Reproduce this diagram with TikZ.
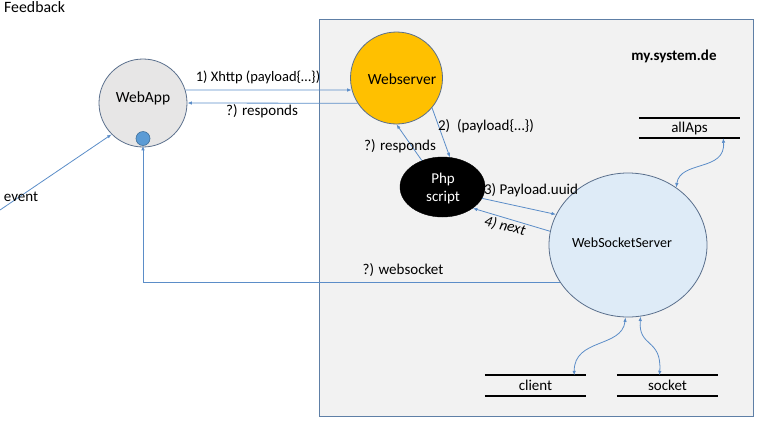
\documentclass[tikz,border=0pt]{standalone}
\usepackage{fontspec}
\setmainfont{Carlito}
\usetikzlibrary{arrows.meta,shapes.geometric}
\definecolor{boxfill}{HTML}{F2F2F2}
\definecolor{boxline}{HTML}{5E7FA6}
\definecolor{conn}{HTML}{5B8DC8}
\definecolor{shapeline}{HTML}{5A6F8C}
\definecolor{appfill}{HTML}{E7E6E6}
\definecolor{srvfill}{HTML}{FFC000}
\definecolor{wssfill}{HTML}{DEEBF7}
\definecolor{dotfill}{HTML}{5B9BD5}
\definecolor{dotline}{HTML}{41719C}
\tikzset{
  lbl/.style={inner sep=0pt, font=\fontsize{15}{17}\selectfont},
  conline/.style={draw=conn, line width=0.8pt, -{Latex[length=4.5pt,width=3.5pt]}},
  biline/.style={draw=conn, line width=0.8pt, {Latex[length=4.5pt,width=3.5pt]}-{Latex[length=4.5pt,width=3.5pt]}},
  bubble/.style={circle, draw=shapeline, line width=0.8pt, inner sep=0pt},
  storebox/.style={minimum width=101pt, minimum height=20pt, inner sep=0pt, font=\fontsize{15}{17}\selectfont},
  storeline/.style={line width=2pt, black},
}
\begin{document}
\begin{tikzpicture}[x=1pt,y=-1pt]
\useasboundingbox (0,0) rectangle (768,432);
% Feedback title
\node[lbl, anchor=west, font=\fontsize{15.8}{17}\selectfont] (feedback) at (4,7) {Feedback};
% system box
\draw[fill=boxfill, draw=boxline, line width=1pt] (319,19) rectangle (753,416);
\node[lbl, font=\bfseries\fontsize{15}{17}\selectfont] (sysname) at (674,56) {my.system.de};
% nodes
\node[bubble, fill=appfill, minimum size=88pt] (webapp) at (143,103) {};
\node[lbl, font=\fontsize{15.5}{17}\selectfont] (webapptxt) at (143,98) {WebApp};
\node[circle, fill=dotfill, draw=dotline, line width=0.6pt, minimum size=14pt, inner sep=0pt] (dot) at (143,138.5) {};
\node[bubble, fill=srvfill, minimum size=92pt] (webserver) at (396.5,78) {};
\node[lbl, font=\fontsize{15.5}{17}\selectfont] (webservertxt) at (402,79) {Webserver};
\node[ellipse, fill=black, draw=black, minimum width=85pt, minimum height=60pt, inner sep=0pt] (php) at (442.5,187) {};
\node[lbl, text=white, align=center, font=\fontsize{15}{18}\selectfont] (phptxt) at (443,188) {Php\\script};
\node[ellipse, fill=wssfill, draw=shapeline, line width=0.8pt, minimum width=158pt, minimum height=144pt, inner sep=0pt] (wss) at (628,245) {};
\node[lbl, font=\fontsize{14}{16}\selectfont] (wsstxt) at (622,243) {WebSocketServer};
% data stores
\node[storebox] (allaps) at (689.5,128) {allAps};
\draw[storeline] (allaps.north west) -- (allaps.north east);
\draw[storeline] (allaps.south west) -- (allaps.south east);
\node[storebox] (client) at (535.5,385.5) {client};
\draw[storeline] (client.north west) -- (client.north east);
\draw[storeline] (client.south west) -- (client.south east);
\node[storebox] (socket) at (667.5,385.5) {socket};
\draw[storeline] (socket.north west) -- (socket.north east);
\draw[storeline] (socket.south west) -- (socket.south east);
% connectors
\draw[conline] (webapp.17) -- (webserver.195);
\node[lbl, font=\fontsize{14.5}{16}\selectfont] (l1) at (258,77) {1) Xhttp (payload\{…\})};
\draw[conline] (webserver.213) -- (webapp.0);
\node[lbl] (l2) at (262,111) {?) responds};
\draw[conline] (webserver.-40) -- (php.76);
\node[lbl] (l3) at (486,126) {2)~~(payload\{…\})};
\draw[conline] (php.128) -- (webserver.-90);
\node[lbl] (l4) at (400,146) {?) responds};
\draw[conline] (php.-16.5) -- (wss.157.4);
\node[lbl] (l5) at (531,190) {3) Payload.uuid};
\draw[conline] (wss.170) -- (php.-35);
\node[lbl, font=\itshape\fontsize{15}{17}\selectfont, rotate=-14] (l6) at (505,226) {4) next};
\draw[conline] (wss.209.6) -| (dot.south);
\node[lbl] (l7) at (403,270) {?) websocket};
\coordinate (evstart) at (0,210);
\draw[conline] (evstart) -- (webapp.225);
\node[lbl] (l8) at (21,197) {event};
\draw[biline] (wss.50.5) .. controls (680,160) and (726,172) .. ([xshift=-17pt]allaps.south east);
\draw[biline] (wss.-92) .. controls (622,348) and (574,338) .. ([xshift=-12pt]client.north east);
\draw[biline] (wss.-80) .. controls (638,348) and (662,338) .. ([xshift=-8pt]socket.north);
\end{tikzpicture}
\end{document}
